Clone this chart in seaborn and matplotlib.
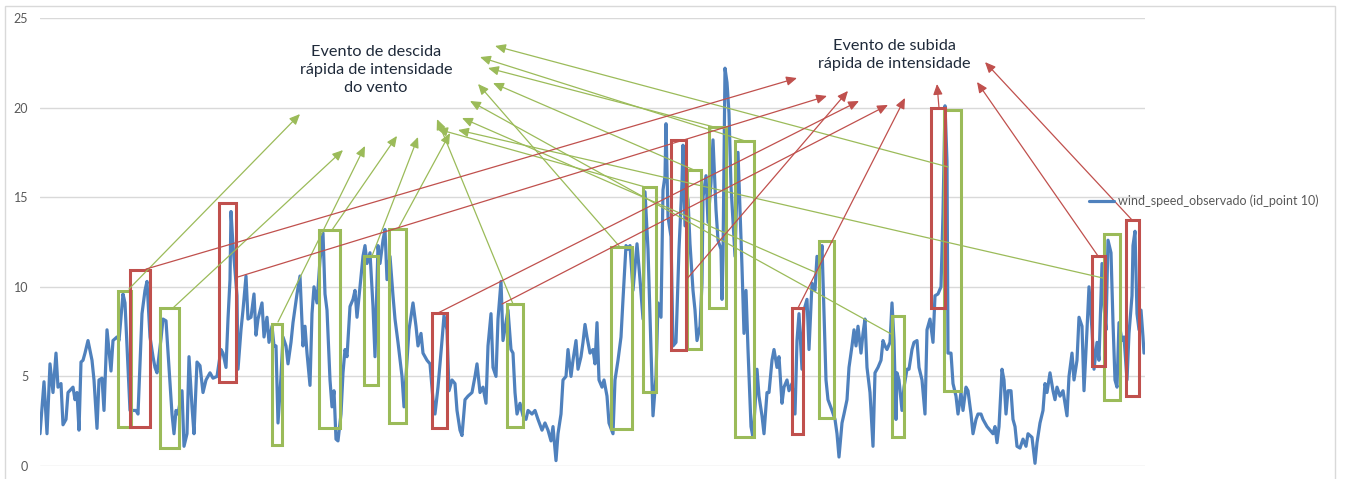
import pandas as pd
import seaborn as sns
import matplotlib.pyplot as plt
from matplotlib.patches import Rectangle

tempo = [
    40, 44, 47, 50, 53, 56, 58, 61, 63, 66, 68, 73, 75, 77, 79, 81, 83, 85, 88, 92,
    94, 97, 99, 102, 104, 107, 111, 113, 117, 119, 123, 125, 130, 136, 138, 142, 145, 147, 150, 153,
    155, 157, 161, 163, 166, 169, 172, 174, 176, 178, 182, 184, 187, 189, 192, 194, 197, 200, 203, 206,
    210, 213, 217, 221, 223, 226, 228, 230, 231, 233, 237, 238, 241, 243, 246, 248, 251, 254, 256, 258,
    262, 264, 267, 269, 272, 274, 276, 278, 281, 283, 286, 288, 291, 293, 297, 300, 303, 305, 307, 310,
    312, 314, 317, 320, 323, 325, 327, 330, 332, 334, 336, 338, 341, 343, 345, 347, 350, 353, 355, 357,
    360, 363, 365, 367, 370, 373, 375, 378, 380, 383, 385, 387, 390, 393, 395, 398, 402, 404, 407, 409,
    413, 416, 418, 421, 423, 427, 430, 433, 435, 438, 442, 444, 447, 449, 452, 455, 457, 460, 462, 465,
    468, 472, 475, 477, 480, 483, 486, 488, 491, 493, 496, 498, 501, 503, 506, 508, 511, 513, 515, 517,
    520, 523, 526, 528, 532, 535, 538, 542, 545, 548, 551, 553, 556, 558, 561, 563, 566, 568, 571, 573,
    576, 578, 581, 583, 585, 587, 590, 593, 595, 597, 599, 602, 604, 607, 609, 613, 615, 618, 621, 623,
    626, 628, 630, 633, 635, 637, 640, 643, 645, 648, 650, 653, 656, 658, 661, 663, 665, 666, 668, 671,
    673, 676, 679, 682, 683, 685, 688, 690, 693, 695, 697, 700, 702, 703, 706, 708, 711, 713, 716, 718,
    721, 722, 723, 725, 727, 729, 731, 733, 735, 738, 740, 742, 744, 746, 748, 751, 753, 755, 757, 759,
    762, 764, 767, 769, 772, 774, 777, 779, 782, 784, 787, 789, 792, 795, 797, 799, 802, 804, 807, 809,
    812, 815, 817, 820, 822, 824, 826, 828, 832, 835, 837, 839, 842, 844, 847, 849, 852, 854, 856, 858,
    861, 863, 865, 867, 870, 873, 875, 878, 881, 883, 885, 887, 890, 892, 894, 896, 897, 899, 902, 904,
    907, 909, 912, 914, 917, 919, 922, 925, 927, 930, 933, 935, 938, 941, 943, 945, 947, 948, 951, 953,
    956, 958, 961, 963, 966, 968, 971, 973, 976, 978, 981, 983, 985, 987, 990, 993, 995, 997, 999, 1002,
    1004, 1006, 1008, 1011, 1013, 1015, 1017, 1020, 1023, 1026, 1028, 1032, 1035, 1037, 1040, 1043, 1045, 1047, 1050, 1053,
    1055, 1057, 1060, 1063, 1065, 1067, 1069, 1072, 1074, 1077, 1079, 1082, 1084, 1087, 1089, 1092, 1094, 1097, 1099, 1102,
    1104, 1106, 1108, 1111, 1113, 1115, 1117, 1119, 1122, 1124, 1127, 1129, 1132, 1133, 1135, 1137, 1139, 1141, 1143, 1144,
]
vento = [
    1.8, 4.7, 1.8, 5.7, 4.1, 6.3, 4.4, 4.6, 2.3, 2.6, 4.1, 4.4, 3.7, 4.1, 2.0, 5.8, 5.9, 6.3, 7.0, 5.9,
    4.8, 2.1, 4.8, 4.9, 3.1, 7.6, 5.3, 7.0, 7.2, 7.0, 9.6, 9.1, 3.1, 3.1, 2.9, 8.5, 9.8, 10.3, 7.2, 6.1,
    5.5, 5.2, 7.1, 8.2, 8.1, 5.5, 2.9, 1.8, 3.1, 2.9, 4.2, 1.1, 1.8, 6.1, 3.3, 1.8, 5.8, 5.6, 4.1, 4.8,
    5.2, 4.9, 5.0, 6.5, 6.3, 5.5, 8.2, 10.4, 14.2, 12.3, 9.5, 5.4, 7.6, 8.7, 10.6, 8.2, 8.3, 9.6, 7.3, 8.2,
    9.1, 7.2, 8.3, 6.9, 7.8, 6.7, 6.7, 2.4, 5.0, 7.2, 6.7, 5.7, 6.9, 8.0, 9.6, 10.6, 6.7, 7.8, 6.3, 4.5,
    8.5, 10.0, 9.1, 11.5, 13.0, 9.6, 8.7, 4.8, 3.3, 4.2, 1.5, 1.4, 2.9, 5.2, 6.5, 6.1, 8.9, 9.3, 9.8, 8.3,
    10.0, 11.7, 12.3, 11.3, 11.9, 8.9, 6.1, 12.3, 11.3, 12.6, 13.2, 10.4, 11.7, 9.5, 8.2, 6.9, 5.0, 3.3, 5.9, 7.6,
    9.1, 7.8, 6.7, 7.4, 6.3, 5.9, 5.7, 3.7, 2.9, 4.4, 7.0, 8.4, 7.6, 4.2, 4.8, 4.6, 3.1, 2.0, 1.7, 3.7,
    3.9, 4.1, 5.0, 5.7, 4.1, 4.4, 3.5, 6.7, 8.5, 5.5, 5.0, 8.2, 10.3, 7.0, 8.0, 8.7, 6.5, 6.3, 4.1, 2.9,
    3.5, 2.8, 2.6, 3.1, 2.9, 3.1, 2.6, 2.0, 2.4, 2.0, 1.4, 2.2, 0.3, 1.8, 2.9, 4.8, 5.0, 6.5, 5.0, 5.9,
    7.0, 5.4, 6.1, 6.9, 7.9, 7.2, 6.3, 6.5, 5.7, 8.0, 4.8, 4.4, 4.8, 3.9, 2.4, 1.8, 4.8, 5.9, 7.2, 9.3,
    12.3, 12.1, 12.3, 9.8, 11.1, 12.4, 10.4, 8.2, 15.3, 12.1, 8.3, 2.8, 5.0, 9.1, 8.3, 15.4, 16.2, 19.1, 13.9, 12.8,
    6.7, 6.9, 12.1, 15.8, 17.9, 13.4, 14.9, 12.4, 9.8, 8.7, 7.0, 7.8, 10.2, 15.0, 16.2, 13.6, 15.8, 18.2, 14.3, 12.6,
    12.1, 9.3, 11.7, 22.2, 21.4, 19.7, 15.6, 13.6, 11.7, 17.5, 14.3, 11.1, 7.4, 9.8, 6.5, 2.2, 1.6, 3.3, 5.4, 3.9,
    2.8, 1.8, 4.1, 4.1, 5.9, 6.5, 5.5, 6.1, 3.5, 4.4, 4.8, 4.2, 4.6, 2.9, 7.0, 8.5, 5.4, 8.7, 9.3, 6.5,
    10.2, 9.8, 11.7, 11.1, 12.3, 8.5, 4.8, 3.7, 3.1, 2.6, 1.8, 0.5, 2.4, 2.9, 3.7, 5.5, 6.7, 7.6, 6.7, 7.8,
    6.3, 7.4, 8.2, 5.5, 4.1, 1.1, 5.2, 5.5, 5.9, 7.0, 6.7, 6.5, 6.9, 9.1, 7.0, 2.6, 5.2, 4.8, 3.1, 4.4,
    5.4, 5.4, 6.5, 6.9, 7.0, 5.5, 4.8, 2.9, 7.6, 8.2, 6.9, 9.5, 9.6, 10.0, 14.1, 20.1, 17.0, 6.3, 6.3, 4.6,
    3.9, 2.9, 4.1, 3.1, 4.4, 4.2, 2.9, 1.8, 2.6, 2.9, 2.9, 2.6, 2.4, 2.2, 2.0, 1.8, 2.2, 1.3, 2.2, 5.4,
    4.8, 2.9, 4.2, 4.2, 2.6, 2.2, 1.1, 1.0, 1.5, 1.1, 1.8, 1.6, 0.15, 1.3, 2.4, 3.1, 4.6, 4.1, 5.2, 4.2,
    3.7, 4.4, 3.9, 4.2, 3.5, 2.8, 5.0, 6.3, 4.8, 5.9, 8.3, 7.8, 4.2, 7.6, 10.0, 7.6, 5.4, 6.9, 5.9, 11.3,
    8.9, 7.6, 12.6, 11.9, 8.0, 4.8, 4.4, 8.0, 7.0, 7.2, 4.8, 7.4, 9.5, 12.3, 13.1, 8.5, 7.6, 8.7, 7.2, 6.3,
]

# retangulos de eventos: inicio, fim, velocidade minima, velocidade maxima
desc_ini = [118, 160, 272, 319, 364, 389, 507, 611, 643, 687, 709, 735, 819, 892, 944, 1104]
desc_fim = [131, 179, 282, 340, 378, 406, 523, 632, 656, 701, 726, 754, 834, 904, 961, 1120]
desc_min = [2.18, 1.0, 1.17, 2.12, 4.52, 2.4, 2.18, 2.06, 4.13, 6.53, 8.82, 1.62, 2.68, 1.62, 4.19, 3.68]
desc_max = [9.77, 8.82, 7.92, 13.17, 11.72, 13.23, 9.04, 12.22, 15.57, 16.52, 18.92, 18.14, 12.56, 8.37, 19.87, 12.95]

sub_ini = [130, 219, 432, 671, 792, 931, 1092, 1126]
sub_fim = [150, 236, 447, 686, 803, 945, 1105, 1139]
sub_min = [2.18, 4.69, 2.12, 6.47, 1.79, 8.82, 5.58, 3.91]
sub_max = [10.94, 14.68, 8.54, 18.19, 8.82, 19.98, 11.72, 13.73]

# setas (origem no evento -> destino junto ao texto)
desc_seta_de = [(129, 9.88), (173, 8.82), (278, 8.04), (332, 13.17), (372, 11.72), (398, 13.23),
                (513, 9.04), (620, 12.22), (649, 15.51), (694, 16.52), (718, 18.86), (745, 18.14),
                (817, 10.77), (893, 7.31), (948, 16.69), (1103, 10.49)]
desc_seta_para = [(300, 19.64), (343, 17.63), (365, 17.86), (397, 18.42), (418, 18.36), (450, 18.58),
                  (437, 19.36), (478, 21.32), (437, 18.81), (493, 21.37), (488, 22.21), (480, 22.82),
                  (462, 19.42), (470, 20.37), (495, 23.44), (458, 18.75)]
sub_seta_de = [(146, 10.99), (238, 10.55), (438, 8.54), (502, 9.04), (686, 10.38), (798, 8.82),
               (939, 19.98), (1098, 11.72), (1132, 13.73)]
sub_seta_para = [(797, 21.65), (827, 20.65), (859, 20.37), (888, 20.15), (848, 20.93), (905, 20.54),
                 (937, 21.32), (977, 21.43), (985, 22.54)]

AZUL = '#4F81BD'
VERDE = '#9BBB59'
VERMELHO = '#C0504D'

df = pd.DataFrame({'tempo': tempo, 'vento': vento})

sns.set_style('white')
plt.rcParams['font.family'] = ['Lato', 'DejaVu Sans']

fig = plt.figure(figsize=(13.46, 4.79), dpi=100)
ax = fig.add_axes([40 / 1346, 13 / 479, 1105 / 1346, 448 / 479])

sns.lineplot(data=df, x='tempo', y='vento', ax=ax, color=AZUL, lw=2.3,
             label='wind_speed_observado (id_point 10)', zorder=3)

ax.set_xlim(40, 1145)
ax.set_ylim(0, 25)
ax.set_yticks([0, 5, 10, 15, 20, 25])
ax.set_xticks([])
ax.set_xlabel('')
ax.set_ylabel('')
ax.yaxis.grid(True, color='#D9D9D9', lw=1.0)
ax.set_axisbelow(True)
for s in ax.spines.values():
    s.set_visible(False)
ax.tick_params(axis='y', length=0, pad=8.5, labelsize=9, labelcolor='#595959')

# retangulos
for x0, x1, y0, y1 in zip(desc_ini, desc_fim, desc_min, desc_max):
    ax.add_patch(Rectangle((x0, y0), x1 - x0, y1 - y0, fill=False, ec=VERDE, lw=2.2, zorder=4))
for x0, x1, y0, y1 in zip(sub_ini, sub_fim, sub_min, sub_max):
    ax.add_patch(Rectangle((x0, y0), x1 - x0, y1 - y0, fill=False, ec=VERMELHO, lw=2.2, zorder=4))

# setas
estilo = '-|>,head_length=0.45,head_width=0.2'
for a, b in zip(desc_seta_de, desc_seta_para):
    ax.annotate('', xy=b, xytext=a, zorder=5,
                arrowprops=dict(arrowstyle=estilo, mutation_scale=14, color=VERDE, lw=0.9,
                                shrinkA=0, shrinkB=0))
for a, b in zip(sub_seta_de, sub_seta_para):
    ax.annotate('', xy=b, xytext=a, zorder=5,
                arrowprops=dict(arrowstyle=estilo, mutation_scale=14, color=VERMELHO, lw=0.9,
                                shrinkA=0, shrinkB=0))

ax.text(376, 22.1, 'Evento de descida\nrápida de intensidade\ndo vento', ha='center', va='center',
        fontsize=11.7, color='#1F2A3A', linespacing=1.35)
ax.text(894, 22.95, 'Evento de subida\nrápida de intensidade', ha='center', va='center',
        fontsize=11.7, color='#1F2A3A', linespacing=1.35)

leg = ax.legend(loc='center left', bbox_to_anchor=((1089 - 40) / 1105, (466 - 201) / 448),
                frameon=False, fontsize=9, handlelength=2.0, handletextpad=0.3,
                borderpad=0, borderaxespad=0)
for t in leg.get_texts():
    t.set_color('#595959')

# moldura da area do grafico
fig.patches.append(Rectangle((5 / 1346, -0.05), 1330 / 1346, 1.05 - 6 / 479, fill=False,
                             ec='#D9D9D9', lw=1.0, transform=fig.transFigure, figure=fig))

fig.savefig('out.png', dpi=100)
